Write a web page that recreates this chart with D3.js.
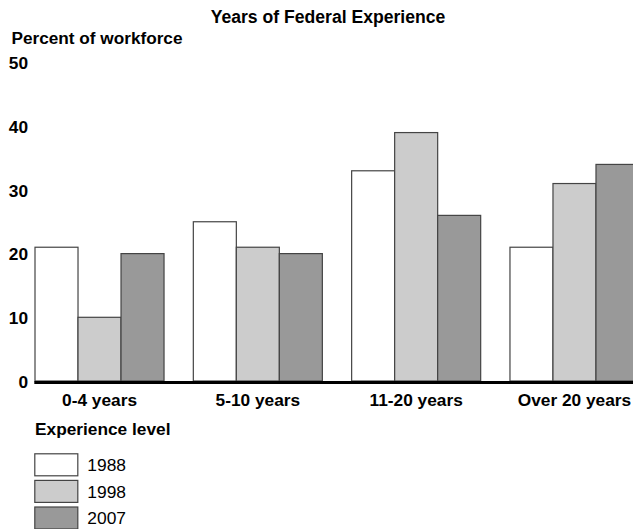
<!DOCTYPE html>
<html>
<head>
<meta charset="utf-8">
<script src="https://cdn.jsdelivr.net/npm/d3@7"></script>
<style>
  html, body { margin: 0; padding: 0; background: #fff; }
  svg { display: block; font-family: "Liberation Sans", Arial, Helvetica, sans-serif; }
</style>
</head>
<body>
<svg id="chart" width="633" height="529"></svg>
<script>
const categories = ["0-4 years", "5-10 years", "11-20 years", "Over 20 years"];
const seriesNames = ["1988", "1998", "2007"];
const values1988 = [21, 25, 33, 21];
const values1998 = [10, 21, 39, 31];
const values2007 = [20, 20, 26, 34];
const yTicks = [0, 10, 20, 30, 40, 50];
const seriesColors = ["#ffffff", "#cccccc", "#999999"];

const seriesValues = [values1988, values1998, values2007];
const data = categories.map((c, i) => ({
  cat: c,
  vals: seriesNames.map((s, j) => ({ key: s, value: seriesValues[j][i] }))
}));

const FONT = "Liberation Sans, Arial, Helvetica, sans-serif";
const BOLD = 17.3;
const svg = d3.select("#chart");

const y = d3.scaleLinear().domain([0, 50]).range([381, 62.5]);
const x0 = d3.scaleBand().domain(categories).range([35, 639]).paddingInner(0.185).paddingOuter(0);
const x1 = d3.scaleBand().domain(seriesNames).range([0, x0.bandwidth()]).padding(0);
const color = d3.scaleOrdinal().domain(seriesNames).range(seriesColors);

// titles
svg.append("text").attr("x", 328).attr("y", 22.7).attr("text-anchor", "middle")
  .attr("font-weight", "bold").attr("font-size", 17.6).text("Years of Federal Experience");
svg.append("text").attr("x", 11.5).attr("y", 44.3)
  .attr("font-weight", "bold").attr("font-size", 17.2).text("Percent of workforce");

// y axis tick labels
const yAxis = d3.axisLeft(y).tickValues(yTicks).tickSize(0).tickPadding(0);
const yg = svg.append("g").attr("transform", "translate(28,0)").call(yAxis);
yg.select(".domain").remove();
yg.selectAll("text").attr("font-weight", "bold").attr("font-size", BOLD)
  .attr("font-family", FONT).attr("fill", "#000")
  .attr("dy", "0.36em");

// bars
const groups = svg.append("g").selectAll("g").data(data).join("g")
  .attr("transform", d => `translate(${x0(d.cat)},0)`);
groups.selectAll("rect").data(d => d.vals).join("rect")
  .attr("x", d => x1(d.key))
  .attr("y", d => y(d.value))
  .attr("width", x1.bandwidth())
  .attr("height", d => y(0) - y(d.value))
  .attr("fill", d => color(d.key))
  .attr("stroke", "#444")
  .attr("stroke-width", 1.2);

// baseline
svg.append("line").attr("x1", 34.3).attr("x2", 633).attr("y1", y(0) + 1.5).attr("y2", y(0) + 1.5)
  .attr("stroke", "#000").attr("stroke-width", 3);

// category labels centred under groups
const xAxis = d3.axisBottom(x0).tickSize(0).tickPadding(0);
const xg = svg.append("g").attr("transform", "translate(0,406)").call(xAxis);
xg.select(".domain").remove();
xg.selectAll("text").attr("font-weight", "bold").attr("font-size", BOLD)
  .attr("font-family", FONT).attr("fill", "#000")
  .attr("dy", "0");

// legend
svg.append("text").attr("x", 35).attr("y", 435)
  .attr("font-weight", "bold").attr("font-size", BOLD).text("Experience level");
const lg = svg.append("g").selectAll("g").data(seriesNames).join("g")
  .attr("transform", (d, i) => `translate(34.8,${453.8 + i * 26.6})`);
lg.append("rect").attr("width", x1.bandwidth()).attr("height", 22)
  .attr("fill", d => color(d)).attr("stroke", "#444").attr("stroke-width", 1.2);
lg.append("text").attr("x", 52.5).attr("y", 17.2).attr("font-size", 17.4).text(d => d);
</script>
</body>
</html>
